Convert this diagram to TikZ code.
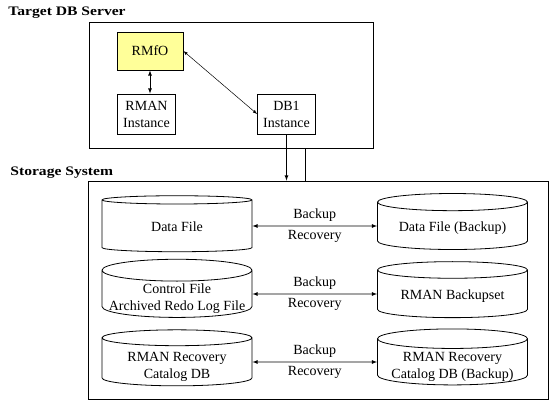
\documentclass[tikz,border=0pt]{standalone}
\usepackage{fontspec}
\setmainfont{Liberation Serif}
\newfontfamily\titlefont[FakeStretch=1.2]{Liberation Serif}
\usetikzlibrary{arrows,shapes.geometric,positioning}
\definecolor{paleyellow}{HTML}{FFFF99}
% text of a disk sits below its top ellipse
\newcommand{\disktext}[1]{\raisebox{0pt}[\height][\dimexpr\depth-9pt\relax]{\begin{tabular}{@{}c@{}}#1\end{tabular}}}

\begin{document}
\begin{tikzpicture}[x=1pt, y=-1pt, line width=0.8pt, >=latex,
	font=\fontsize{14}{17}\selectfont,
	box/.style={draw, align=center, inner sep=1pt, minimum width=58pt, minimum height=40pt},
	disk/.style={draw, cylinder, shape border rotate=90, aspect=0.16,
		inner sep=0pt, minimum width=150pt, minimum height=56pt},
	area/.style={draw, inner sep=0pt},
	title/.style={anchor=west, inner sep=0pt, font=\titlefont\bfseries\fontsize{13}{15}\selectfont}]
	\useasboundingbox (0,0) rectangle (560,415);
	% target server
	\node [title] (servertitle) at (8,13) {Target DB Server};
	\node [area, minimum width=284pt, minimum height=126pt] (server) at (231,85) {};
	\node [box, fill=paleyellow, minimum width=66pt, minimum height=38pt] (rmfo) at (150,51) {RMfO};
	\node [box] (rman) at (146.5,114) {RMAN\\Instance};
	\node [box] (db1) at (286.5,114) {DB1\\Instance};
	\draw [<->] (rmfo.south) -- (rmfo.south |- rman.north);
	\draw [<->, line width=0.5pt] (rmfo.east) -- (db1.west);
	% storage
	\node [title] (storetitle) at (10,173) {Storage System};
	\node [area, minimum width=460pt, minimum height=218pt] (store) at (318,290) {};
	\draw [->] (db1.south) -- (db1.south |- store.north);
	\coordinate (link) at (305,148);
	\draw (link) -- (link |- store.north);
	\node [disk] (datafile) at (177,226) {\disktext{Data File}};
	\node [disk] (databak) at (452.5,226) {\disktext{Data File (Backup)}};
	\node [disk] (ctlfile) at (177,294) {\disktext{Control File\\Archived Redo Log File}};
	\node [disk] (backupset) at (452.5,294) {\disktext{RMAN Backupset}};
	\node [disk] (catalog) at (177,362) {\disktext{RMAN Recovery\\Catalog DB}};
	\node [disk] (catalogbak) at (452.5,362) {\disktext{RMAN Recovery\\Catalog DB (Backup)}};
	\draw [<->] (datafile) -- node [above=1pt] {Backup} node [below=1pt] {Recovery} (databak);
	\draw [<->] (ctlfile) -- node [above=1pt] {Backup} node [below=1pt] {Recovery} (backupset);
	\draw [<->] (catalog) -- node [above=1pt] {Backup} node [below=1pt] {Recovery} (catalogbak);
\end{tikzpicture}
\end{document}
